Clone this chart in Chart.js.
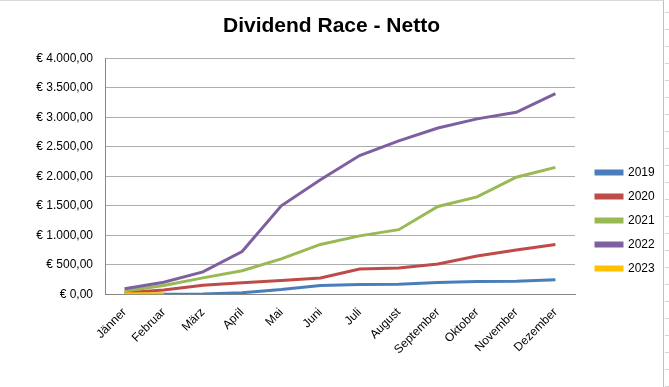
<!DOCTYPE html>
<html lang="de">
<head>
    <meta charset="UTF-8">
    <title>Dividend Race - Netto</title>
    <style>
        body { margin: 0; background: #fff; }
        .frame { position: absolute; left: 0; top: 0; width: 663px; height: 386px; border-top: 1px solid #D9D9D9; border-right: 1px solid #BFBFBF; }
        /* spreadsheet row lines peeking out on the right */
        .cells { position: absolute; left: 665px; top: 0; width: 4px; height: 387px;
                 background: repeating-linear-gradient(to bottom, transparent 0, transparent 12px, #D4D4D4 12px, #D4D4D4 13px, transparent 13px, transparent 17px);
                 background-position: 0 0; }
    </style>
</head>
<body>
    <div class="frame">
        <canvas id="race" width="663" height="386"></canvas>
    </div>
    <div class="cells"></div>
    <script src="https://cdn.jsdelivr.net/npm/chart.js@4.4.0/dist/chart.umd.min.js"></script>
    <script>
        const months = ['Jänner', 'Februar', 'März', 'April', 'Mai', 'Juni', 'Juli', 'August', 'September', 'Oktober', 'November', 'Dezember']
        const years = ['2019', '2020', '2021', '2022', '2023']
        const netto2019 = [0, 0, 5, 28, 80, 150, 167, 170, 200, 217, 220, 245]
        const netto2020 = [28, 72, 155, 195, 233, 278, 430, 445, 515, 650, 750, 845]
        const netto2021 = [55, 150, 278, 400, 600, 845, 990, 1095, 1488, 1650, 1983, 2150]
        const netto2022 = [95, 205, 380, 725, 1500, 1940, 2350, 2600, 2817, 2972, 3083, 3400]
        const netto2023 = [8, 10]
        const yTicks = [0, 500, 1000, 1500, 2000, 2500, 3000, 3500, 4000]

        const colors = ['#4A7EBB', '#BE4B48', '#98B954', '#7D60A0', '#FFC000']
        const series = [netto2019, netto2020, netto2021, netto2022, netto2023]

        const euro = v => {
            const parts = v.toFixed(2).split('.')
            const whole = parts[0].replace(/\B(?=(\d{3})+(?!\d))/g, '.')
            return '€ ' + whole + ',' + parts[1]
        }

        const datasets = series.map((data, i) => ({
            label: years[i],
            data: data,
            borderColor: colors[i],
            backgroundColor: colors[i],
            borderWidth: 3,
            pointRadius: 0,
            tension: 0,
            order: series.length - 1 - i   // 2023 drawn on top, like Excel
        }))

        const font = "'Liberation Sans', Arial, sans-serif"

        const ctx = document.getElementById('race')
        const chart = new Chart(ctx, {
            type: 'line',
            data: { labels: months, datasets: datasets },
            options: {
                responsive: false,
                animation: false,
                layout: { padding: { left: 0, right: 0, top: 0, bottom: 27 } },
                plugins: {
                    title: {
                        display: true,
                        text: 'Dividend Race - Netto',
                        color: '#000',
                        font: { family: "'Liberation Sans Narrow', 'Liberation Sans', Arial, sans-serif", size: 21, weight: 'bold' },
                        padding: { top: 13, bottom: 19 }
                    },
                    legend: {
                        position: 'right',
                        maxWidth: 79,
                        // empty title only pushes the entries down a bit
                        title: { display: true, text: ' ', font: { size: 10 }, padding: { top: 34, bottom: 34 } },
                        labels: {
                            boxWidth: 26,
                            boxHeight: 3,
                            padding: 12,
                            color: '#000',
                            font: { family: font, size: 12 },
                            sort: (a, b) => a.datasetIndex - b.datasetIndex
                        }
                    },
                    tooltip: { enabled: false }
                },
                scales: {
                    x: {
                        offset: true,
                        grid: { display: false },
                        border: { display: true, color: '#868686', width: 1 },
                        ticks: {
                            color: '#000',
                            font: { family: font, size: 12 },
                            minRotation: 45,
                            maxRotation: 45,
                            autoSkip: false
                        }
                    },
                    y: {
                        min: 0,
                        max: 4000,
                        afterBuildTicks: axis => { axis.ticks = yTicks.map(v => ({ value: v })) },
                        afterFit: axis => { axis.width = 105 },
                        grid: { color: '#ADADAD', drawTicks: false },
                        border: { display: true, color: '#868686', width: 1 },
                        ticks: {
                            color: '#000',
                            padding: 12,
                            font: { family: font, size: 12 },
                            callback: v => euro(v)
                        }
                    },
                    // empty right axis, just a gap between plot and legend
                    gap: {
                        type: 'linear',
                        position: 'right',
                        grid: { display: false },
                        border: { display: false },
                        ticks: { display: false },
                        afterFit: axis => { axis.width = 9 }
                    }
                }
            }
        })
    </script>
</body>
</html>
